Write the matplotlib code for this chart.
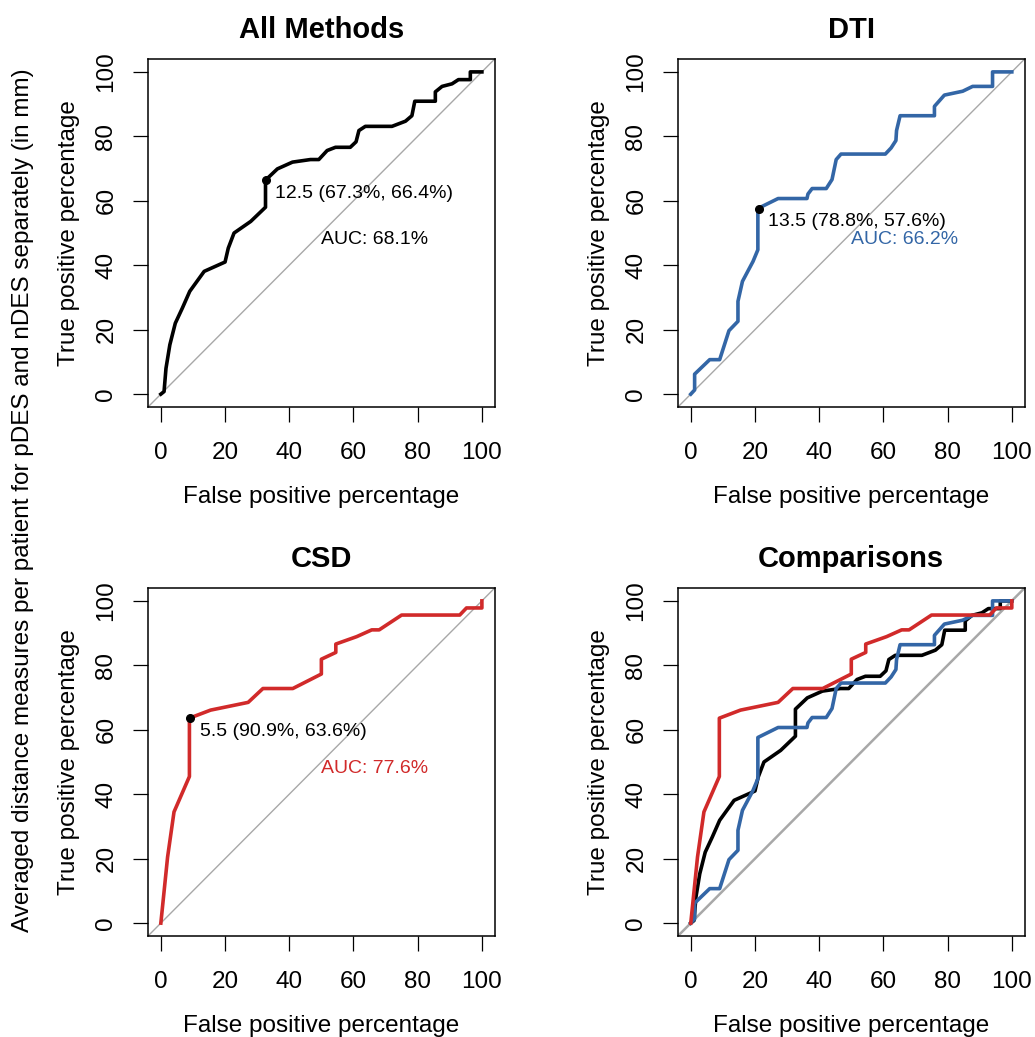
import matplotlib
matplotlib.use("Agg")
import matplotlib.pyplot as plt

plt.rcParams["font.family"] = ["Liberation Sans", "DejaVu Sans"]

# ROC curves (false positive %, true positive %)
ALL_FPR = [0, 1.0, 1.6, 2.8, 4.5, 6.7, 9.0, 13.5, 20.0, 21.0, 22.8, 28.0, 32.6,
           32.6, 36.3, 41.0, 46.6, 49.2, 51.8, 54.4, 59.0, 60.8, 61.7, 63.7,
           72.0, 76.2, 78.2, 79.1, 85.5, 85.5, 87.6, 90.7, 92.7, 96.4, 96.4, 100]
ALL_TPR = [0, 0.8, 8.0, 15.3, 22.0, 26.7, 31.9, 38.1, 41.0, 45.3, 50.0, 53.6, 58.0,
           66.4, 69.9, 72.0, 72.8, 72.8, 75.6, 76.6, 76.6, 78.3, 81.8, 83.1,
           83.1, 84.7, 86.4, 90.9, 90.9, 93.8, 95.5, 96.3, 97.6, 97.6, 100, 100]

DTI_FPR = [0, 1.2, 1.2, 5.9, 9.0, 11.9, 14.7, 14.7, 16.1, 19.4, 20.9, 20.9, 27.2,
           36.2, 36.5, 37.8, 42.2, 44.0, 45.3, 46.8, 60.6, 62.4, 63.9, 64.1, 65.2,
           75.9, 75.9, 79.0, 84.7, 87.8, 94.0, 94.0, 100]
DTI_TPR = [0, 1.3, 6.2, 10.7, 10.7, 19.7, 22.6, 28.8, 35.0, 41.2, 44.8, 57.6, 60.7,
           60.7, 62.1, 63.8, 63.8, 66.6, 72.8, 74.5, 74.5, 76.4, 78.7, 81.8, 86.4,
           86.4, 89.3, 92.8, 94.0, 95.5, 95.5, 100, 100]

CSD_FPR = [0, 2.1, 4.1, 8.9, 8.9, 15.5, 27.2, 31.8, 41.1, 50.0, 50.0, 54.5, 54.5,
           61.0, 65.7, 68.0, 75.0, 93.1, 95.2, 100, 100]
CSD_TPR = [0, 20.5, 34.5, 45.5, 63.6, 66.1, 68.5, 72.8, 72.8, 77.3, 81.9, 84.0, 86.6,
           88.9, 91.0, 91.0, 95.6, 95.6, 97.8, 97.8, 100]

# best thresholds: (threshold, specificity %, sensitivity %)
ALL_BEST = (12.5, 67.3, 66.4)
DTI_BEST = (13.5, 78.8, 57.6)
CSD_BEST = (5.5, 90.9, 63.6)

AUCS = {"All Methods": 68.1, "DTI": 66.2, "CSD": 77.6}

BLACK = "#000000"
BLUE = "#3366A6"
RED = "#D12A2A"

TICKS = [0, 20, 40, 60, 80, 100]


def style_axes(ax, title):
    ax.set_xlim(-4, 104)
    ax.set_ylim(-4, 104)
    ax.set_xticks(TICKS)
    ax.set_yticks(TICKS)
    ax.set_yticklabels([str(t) for t in TICKS], rotation=90, va="center")
    ax.tick_params(axis="both", length=11, width=0.9, labelsize=17.5)
    ax.tick_params(axis="x", pad=14)
    ax.tick_params(axis="y", pad=11)
    for spine in ax.spines.values():
        spine.set_linewidth(1.1)
    ax.set_xlabel("False positive percentage", fontsize=17.5, labelpad=16)
    ax.set_ylabel("True positive percentage", fontsize=17.5, labelpad=11)
    ax.set_title(title, fontsize=21, fontweight="bold", pad=15)


def roc_panel(ax, title, fpr, tpr, color, best):
    ax.axline((0, 0), (100, 100), color="#a8a8a8", lw=1.0, zorder=1)
    ax.plot(fpr, tpr, color=color, lw=2.6, zorder=2, solid_joinstyle="round")
    thr, spec, sens = best
    ax.plot(100 - spec, sens, "o", color="black", ms=5.5, zorder=3)
    ax.text(100 - spec + 3, sens - 4, f"{thr} ({spec}%, {sens}%)",
            fontsize=14, ha="left", va="center")
    ax.text(50, 50.5, f"AUC: {AUCS[title]}%", color=color,
            fontsize=14, ha="left", va="top")
    style_axes(ax, title)


def main() -> None:
    fig = plt.figure(figsize=(10.35, 10.37), dpi=100)
    w, h = 0.335, 0.3356
    ax1 = fig.add_axes([0.143, 0.6075, w, h])
    ax2 = fig.add_axes([0.655, 0.6075, w, h])
    ax3 = fig.add_axes([0.143, 0.0974, w, h])
    ax4 = fig.add_axes([0.655, 0.0974, w, h])

    roc_panel(ax1, "All Methods", ALL_FPR, ALL_TPR, BLACK, ALL_BEST)
    roc_panel(ax2, "DTI", DTI_FPR, DTI_TPR, BLUE, DTI_BEST)
    roc_panel(ax3, "CSD", CSD_FPR, CSD_TPR, RED, CSD_BEST)

    ax4.axline((0, 0), (100, 100), color="#a8a8a8", lw=1.8, zorder=1)
    for fpr, tpr, color in ((ALL_FPR, ALL_TPR, BLACK), (DTI_FPR, DTI_TPR, BLUE),
                            (CSD_FPR, CSD_TPR, RED)):
        ax4.plot(fpr, tpr, color=color, lw=2.6, solid_joinstyle="round", zorder=2)
    style_axes(ax4, "Comparisons")

    fig.text(0.022, 0.518,
             "Averaged distance measures per patient for pDES and nDES separately (in mm)",
             rotation=90, ha="center", va="center", fontsize=17.5)

    fig.savefig("out.png", dpi=100)
    plt.close(fig)


if __name__ == "__main__":
    main()
